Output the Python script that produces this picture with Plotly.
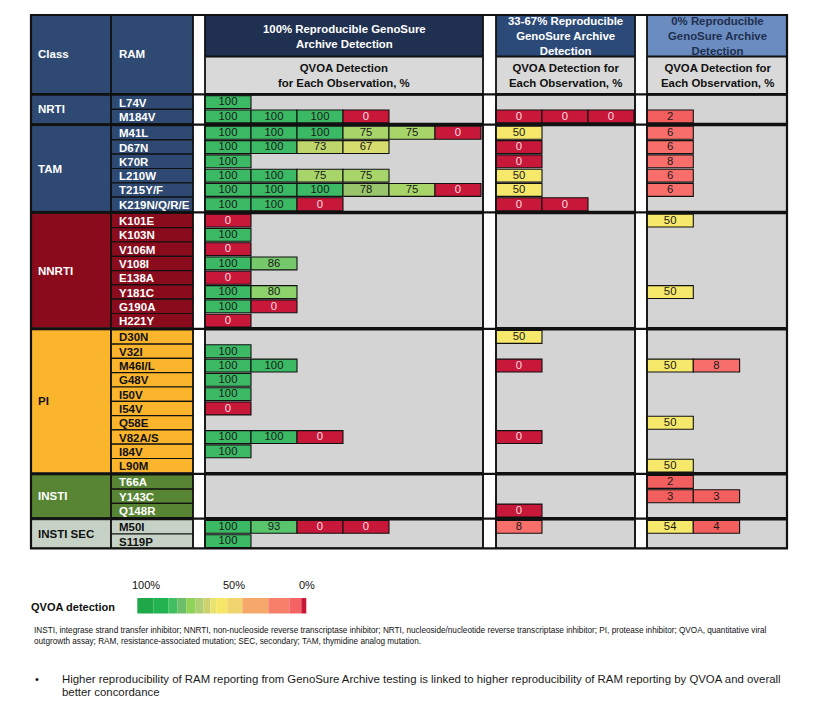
import plotly.graph_objects as go

# ---------------- DATA ----------------
RAM = ["L74V", "M184V",
       "M41L", "D67N", "K70R", "L210W", "T215Y/F", "K219N/Q/R/E",
       "K101E", "K103N", "V106M", "V108I", "E138A", "Y181C", "G190A", "H221Y",
       "D30N", "V32I", "M46I/L", "G48V", "I50V", "I54V", "Q58E", "V82A/S", "I84V", "L90M",
       "T66A", "Y143C", "Q148R",
       "M50I", "S119P"]
RAM_CLASS = (["NRTI"] * 2 + ["TAM"] * 6 + ["NNRTI"] * 8 + ["PI"] * 10
             + ["INSTI"] * 3 + ["INSTI SEC"] * 2)
CLASSES = ["NRTI", "TAM", "NNRTI", "PI", "INSTI", "INSTI SEC"]

# QVOA detection (%) for each observation, by GenoSure Archive reproducibility group
QVOA_100 = [
    [100], [100, 100, 100, 0],
    [100, 100, 100, 75, 75, 0], [100, 100, 73, 67], [100], [100, 100, 75, 75],
    [100, 100, 100, 78, 75, 0], [100, 100, 0],
    [0], [100], [0], [100, 86], [0], [100, 80], [100, 0], [0],
    [], [100], [100, 100], [100], [100], [0], [], [100, 100, 0], [100], [],
    [], [], [],
    [100, 93, 0, 0], [100]]
QVOA_33_67 = [
    [], [0, 0, 0],
    [50], [0], [0], [50], [50], [0, 0],
    [], [], [], [], [], [], [], [],
    [50], [], [0], [], [], [], [], [0], [], [],
    [], [], [0],
    [8], []]
QVOA_0 = [
    [], [2],
    [6], [6], [8], [6], [6], [],
    [50], [], [], [], [], [50], [], [],
    [], [], [50, 8], [], [], [], [50], [], [], [50],
    [2], [3, 3], [],
    [54, 4], []]
GROUPS = [QVOA_100, QVOA_33_67, QVOA_0]
GROUP_TITLES = ["100% Reproducible GenoSure<br>Archive Detection",
                "33-67% Reproducible<br>GenoSure Archive<br>Detection",
                "0% Reproducible<br>GenoSure Archive<br>Detection"]
GROUP_SUBTITLES = ["QVOA Detection<br>for Each Observation, %",
                   "QVOA Detection for<br>Each Observation, %",
                   "QVOA Detection for<br>Each Observation, %"]

LEGEND_TICKS = ["100%", "50%", "0%"]
LEGEND_COLORS = ["#1EA84A", "#22B350", "#40C060", "#6CBE68", "#8FD458", "#AED072",
                 "#CDD170", "#E6E46E", "#F5E668", "#F0D46E", "#F5A86A", "#F8806A",
                 "#F46464", "#C81838"]
LEGEND_WIDTHS = [16, 15, 9, 9, 9, 8, 7, 6, 11, 15, 26, 21, 12, 5]

FOOTNOTE = ["INSTI, integrase strand transfer inhibitor; NNRTI, non-nucleoside reverse transcriptase inhibitor; "
            "NRTI, nucleoside/nucleotide reverse transcriptase inhibitor; PI, protease inhibitor; QVOA, quantitative viral",
            "outgrowth assay; RAM, resistance-associated mutation; SEC, secondary; TAM, thymidine analog mutation."]
BULLET = ["Higher reproducibility of RAM reporting from GenoSure Archive testing is linked to higher reproducibility "
          "of RAM reporting by QVOA and overall",
          "better concordance"]

# ---------------- STYLE / LAYOUT ----------------
FONT = "Liberation Sans, Arial, sans-serif"
W, H = 818, 719
PAGE_OFF = 8          # default body margin of the page
X_CLASS, X_RAM, X_RAM_END = 31, 111, 193
GROUP_X = [(205, 483), (496, 635), (647, 787)]
CELL_W = [46, 46, 46.3]
Y_TOP, Y_H1, Y_H2, Y_DATA0 = 15, 56.5, 93.5, 95
ROW_H, GAP = 14.3, 2.0
CELL_H = ROW_H - 1.4
TABLE_R = 787
HDR_SIZE = 11.4
LBL_SIZE = 11.5

CLASS_FILL = {"NRTI": "#2E4A72", "TAM": "#2E4A72", "NNRTI": "#8A0C1C",
              "PI": "#FBB52C", "INSTI": "#578533", "INSTI SEC": "#C7D2C7"}
CLASS_TEXT = {"NRTI": "white", "TAM": "white", "NNRTI": "white",
              "PI": "#111111", "INSTI": "white", "INSTI SEC": "#111111"}
HEAD_FILL = ["#1F3050", "#2C4A78", "#6A8CC0"]
HEAD_TEXT = ["white", "white", "#1F2F4F"]
PANEL = "#D4D4D4"
SUBHEAD = "#D9D9D9"
EDGE = "#111111"


def cell_color(v):
    if v >= 97: return "#3CB964"
    if v >= 90: return "#58C46C"
    if v >= 84: return "#76C96A"
    if v >= 79: return "#8BD36A"
    if v >= 77: return "#98C46C"
    if v >= 74: return "#A8D56A"
    if v >= 70: return "#BFD66B"
    if v >= 60: return "#D7DC6E"
    if v >= 40: return "#F6E86B"
    if v >= 5: return "#F86E6B"
    if v >= 1: return "#F35E5E"
    return "#C8183A"


# row geometry
row_top = []
blk = 0
for i, c in enumerate(RAM_CLASS):
    if i > 0 and c != RAM_CLASS[i - 1]:
        blk += 1
    row_top.append(Y_DATA0 + i * ROW_H + blk * GAP)
row_mid = [t + ROW_H / 2 for t in row_top]
blocks = []
for c in CLASSES:
    idx = [i for i, cc in enumerate(RAM_CLASS) if cc == c]
    blocks.append((c, row_top[idx[0]], row_top[idx[-1]] + ROW_H))
Y_END = blocks[-1][2]

shapes, annos = [], []


def rect(x0, x1, y0, y1, fill, lw=1.0, lc=EDGE, layer="below"):
    shapes.append(dict(type="rect", xref="x", yref="y", x0=x0, x1=x1, y0=y0, y1=y1,
                       fillcolor=fill, line=dict(color=lc, width=lw), layer=layer))


def hline(y, x0, x1, lw=2):
    shapes.append(dict(type="line", xref="x", yref="y", x0=x0, x1=x1, y0=y, y1=y,
                       line=dict(color=EDGE, width=lw), layer="above"))


def vline(x, y0, y1, lw=1.5):
    shapes.append(dict(type="line", xref="x", yref="y", x0=x, x1=x, y0=y0, y1=y1,
                       line=dict(color=EDGE, width=lw), layer="above"))


def text(x, y, s, size=11, color="#111111", bold=False, xanchor="center", yanchor="middle", align="center"):
    annos.append(dict(x=x, y=y, xref="x", yref="y", text=("<b>%s</b>" % s) if bold else s,
                      showarrow=False, xanchor=xanchor, yanchor=yanchor, align=align,
                      font=dict(family=FONT, size=size, color=color)))


# header
rect(X_CLASS, X_RAM, Y_TOP, Y_H2, CLASS_FILL["NRTI"])
rect(X_RAM, X_RAM_END, Y_TOP, Y_H2, CLASS_FILL["NRTI"])
text(X_CLASS + 5, 54, "Class", size=LBL_SIZE, bold=True, color="white", xanchor="left")
text(X_RAM + 6, 54, "RAM", size=LBL_SIZE, bold=True, color="white", xanchor="left")
for g, (gx0, gx1) in enumerate(GROUP_X):
    rect(gx0, gx1, Y_TOP, Y_H1, HEAD_FILL[g])
    rect(gx0, gx1, Y_H1, Y_H2, SUBHEAD)
    text((gx0 + gx1) / 2, (Y_TOP + Y_H1) / 2 + 0.5, GROUP_TITLES[g], size=HDR_SIZE, bold=True,
         color=HEAD_TEXT[g])
    text((gx0 + gx1) / 2, (Y_H1 + Y_H2) / 2 + 0.5, GROUP_SUBTITLES[g], size=HDR_SIZE, bold=True,
         color="#111111")

# class blocks
for c, y0, y1 in blocks:
    rect(X_CLASS, X_RAM, y0, y1, CLASS_FILL[c])
    text(X_CLASS + 5, (y0 + y1) / 2, c, size=LBL_SIZE, bold=True, color=CLASS_TEXT[c], xanchor="left")
    for gx0, gx1 in GROUP_X:
        rect(gx0, gx1, y0, y1, PANEL, lw=1.5)
for i, r in enumerate(RAM):
    c = RAM_CLASS[i]
    rect(X_RAM, X_RAM_END, row_top[i], row_top[i] + ROW_H, CLASS_FILL[c], lw=1.2)
    text(X_RAM + 6, row_mid[i] + 0.5, r, size=LBL_SIZE, bold=True, color=CLASS_TEXT[c], xanchor="left")

# lines
for _, y0, y1 in blocks[:-1]:
    hline(y1 + GAP / 2, X_CLASS, TABLE_R, 2.2)
hline(Y_DATA0 - 0.6, X_CLASS, TABLE_R, 2.2)
for gx0, gx1 in GROUP_X:
    hline(Y_H1, gx0, gx1, 2)
for x in [X_RAM, X_RAM_END] + [v for p in GROUP_X for v in p]:
    vline(x, Y_TOP, Y_END, 1.6)
shapes.append(dict(type="rect", xref="x", yref="y", x0=X_CLASS, x1=TABLE_R, y0=Y_TOP, y1=Y_END,
                   fillcolor="rgba(0,0,0,0)", line=dict(color=EDGE, width=2.2), layer="above"))

# cells
bx, bbase, by, bcol, tx, ty, tt, tcol = [], [], [], [], [], [], [], []
for g, data in enumerate(GROUPS):
    gx0 = GROUP_X[g][0]
    for i, vals in enumerate(data):
        for j, v in enumerate(vals):
            x0 = gx0 + j * CELL_W[g]
            bx.append(CELL_W[g]); bbase.append(x0); by.append(row_mid[i])
            bcol.append(cell_color(v))
            tx.append(x0 + CELL_W[g] / 2); ty.append(row_mid[i] + 0.5); tt.append(str(v))
            tcol.append("#F6DCE1" if v == 0 else "#1A1A1A")

fig = go.Figure()
fig.add_trace(go.Bar(orientation="h", x=bx, base=bbase, y=by, width=CELL_H,
                     marker=dict(color=bcol, line=dict(color=EDGE, width=1.1)),
                     hoverinfo="skip", showlegend=False))
fig.add_trace(go.Scatter(x=tx, y=ty, text=tt, mode="text",
                         textfont=dict(family=FONT, size=11.3, color=tcol),
                         hoverinfo="skip", showlegend=False))

# colour legend
lx = 137.3
for col, w in zip(LEGEND_COLORS, LEGEND_WIDTHS):
    shapes.append(dict(type="rect", xref="x", yref="y", x0=lx, x1=lx + w, y0=598, y1=613.5,
                       fillcolor=col, line=dict(width=0), layer="above"))
    lx += w
for s, x in zip(LEGEND_TICKS, [146, 234, 307]):
    text(x, 585, s, size=11, color="#111111")
text(117, 606.5, "QVOA detection", bold=True, size=11, xanchor="right")

# footnotes
text(32, 630.5, FOOTNOTE[0], size=8.2, xanchor="left")
text(32, 641.5, FOOTNOTE[1], size=8.2, xanchor="left")
text(33, 679, "•", size=11, xanchor="left")
text(60, 679, BULLET[0], size=11.4, xanchor="left", color="#1A1A1A")
text(60, 692, BULLET[1], size=11.4, xanchor="left", color="#1A1A1A")

fig.update_layout(
    width=W - 2 * PAGE_OFF, height=H - 2 * PAGE_OFF, margin=dict(l=0, r=0, t=0, b=0),
    paper_bgcolor="white", plot_bgcolor="white",
    barmode="overlay", showlegend=False,
    xaxis=dict(range=[PAGE_OFF, W - PAGE_OFF], visible=False, fixedrange=True),
    yaxis=dict(range=[H - PAGE_OFF, PAGE_OFF], visible=False, fixedrange=True),
    shapes=shapes, annotations=annos,
    font=dict(family=FONT),
)
fig.write_html("out.html")
